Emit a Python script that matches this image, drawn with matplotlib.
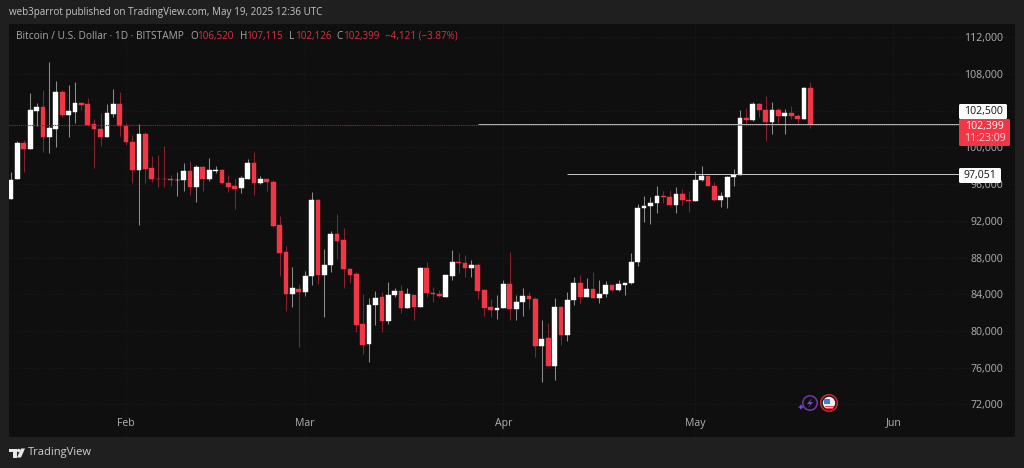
import matplotlib
matplotlib.use("Agg")
import matplotlib.pyplot as plt
from matplotlib.patches import Rectangle, Circle, Polygon, FancyBboxPatch
import numpy as np
import pandas as pd

# daily BTC/USD candles
start_date = "2025-01-14"
opens = [94400,96510,100470,99860,104000,104400,101090,102040,106070,103530,
         103850,104840,104730,102550,102000,101170,103670,104730,102330,100620,
         97560,101420,97780,96580,96580,96550,96400,96440,97420,95710,
         97860,96580,97420,97560,96070,95750,95530,96550,98290,96070,
         96550,96260,91530,88580,84080,84580,84290,85960,94250,86110,
         87240,90580,89890,86800,86220,80760,78580,82870,83670,81060,
         83930,84330,82550,83930,82650,86840,84150,84040,83750,86040,
         87530,87450,86910,87200,84440,82620,82330,82470,85160,82440,
         83130,83850,83530,78330,79200,76220,82620,79530,83380,85270,
         83710,84580,83640,84000,84980,84440,85060,85200,87490,93420,
         93670,93960,94690,94620,93710,94980,94250,94150,96470,96840,
         95780,94250,94650,96800,96980,103200,102940,104760,104070,102730,
         104070,103450,103780,103450,103090,106520]
highs = [97310,100650,100840,105930,104840,106290,109310,107200,106290,106800,
         107090,104980,105380,103130,103750,104760,106400,106040,102660,101380,
         102550,101670,99090,99160,100180,96950,97310,98290,98510,98070,
         97970,98840,97930,97640,97020,96660,96910,98760,99490,96910,
         96580,96470,92550,89270,86950,85130,86550,95130,94360,88910,
         90940,92760,91270,86840,86440,84040,83600,84400,84290,85310,
         84650,85020,84730,83930,87020,87490,84800,84470,86110,88800,
         88510,88290,87780,87450,84470,83460,83890,85560,88580,83890,
         84730,84220,83670,81200,80870,83560,82730,84290,85930,86110,
         85780,86470,85530,85460,85020,85600,85270,88510,93850,94690,
         94620,95780,95270,95310,95640,95420,95240,97420,97930,96910,
         96220,95160,96910,97670,104070,104290,104940,104870,105630,104940,
         104330,104140,104510,103670,106580,107115]
lows = [94330,96510,97310,99860,102290,99490,99420,100070,103310,101170,
        102690,104110,102360,97750,100180,101170,103270,101270,100290,96110,
        91530,96110,96180,95670,95670,95750,94690,95270,94840,94070,
        95270,96290,97200,96040,95170,93310,95020,96550,94840,96040,
        95240,91380,85980,82180,82620,78290,83820,85050,85130,81530,
        86440,87850,84730,85270,79930,77460,76660,80620,79930,80800,
        83710,82000,82510,81200,82620,83670,83160,83750,83710,85560,
        86330,85850,85850,83530,81640,81530,81310,82470,81200,81240,
        81640,82360,77130,74470,76180,74660,78440,78950,82800,83060,
        83710,83600,83090,83750,84400,84400,83930,85170,87130,91930,
        91710,92870,93960,93670,92840,93740,92980,94110,96360,95780,
        94180,93530,93420,95820,96950,102330,102840,103340,100730,101420,
        102620,101420,103130,102540,103050,102126]
closes = [96470,100470,99860,104110,104400,101170,102110,106070,103560,103930,
          104840,104660,102470,102000,101170,103750,104730,102290,100550,97560,
          101420,97670,96510,96510,96510,96470,96470,97420,95710,97860,
          96580,97490,97560,96070,95710,95490,96620,98290,96070,96580,
          96180,91460,88550,84080,84660,84290,86000,94250,86110,87240,
          90580,89850,86730,86150,80690,78510,82840,83600,81060,83960,
          84360,82510,84040,82650,86840,84150,84000,83820,86070,87530,
          87450,86870,87200,84360,82550,82330,82510,85160,82440,83160,
          83850,83490,78330,79130,76220,82620,79530,83420,85270,83710,
          84580,83640,84040,84980,84440,85090,85240,87530,93420,93670,
          94000,94690,94620,93710,94980,94220,94110,96470,96840,95820,
          94290,94690,96800,97020,103200,102940,104760,104040,102730,104070,
          103450,103710,103450,103050,106470,102399]

price_ticks = [72000,76000,80000,84000,88000,92000,96000,100000,104000,108000,112000]
months = ["Feb", "Mar", "Apr", "May", "Jun"]
month_dates = ["2025-02-01", "2025-03-01", "2025-04-01", "2025-05-01", "2025-06-01"]

level_high = 102500
level_low = 97051
level_high_start = "2025-03-28"
level_low_start = "2025-04-11"

RED = "#f23645"
FRAME = "#1f1f1f"
PANEL = "#0f0f0f"
GRID = "#1b1b1b"
LABEL = "#b2b2b2"
FONT = "Open Sans"

plt.rcParams["font.family"] = FONT

o = np.array(opens)
h = np.array(highs)
l = np.array(lows)
c = np.array(closes)
x = np.arange(len(o))
up = c >= o
t0 = pd.Timestamp(start_date)
month_x = [(pd.Timestamp(d) - t0).days for d in month_dates]

fig = plt.figure(figsize=(10.24, 4.68), dpi=100, facecolor=FRAME)
# panel is x 9-1015, y 24-437 in pixels
ax = fig.add_axes([9/1024, 1-437/468, (1015-9)/1024, (437-24)/468], facecolor=PANEL)
ax.set_xlim(-0.31, 157)
ax.set_ylim(68452, 113447)
for s in ax.spines.values():
    s.set_visible(False)
ax.set_axisbelow(True)
ax.grid(True, color=GRID, lw=0.7, ls=(0, (1, 1.5)))

ax.set_yticks(price_ticks)
ax.set_yticklabels([f"{p:,}" for p in price_ticks])
ax.yaxis.tick_right()
ax.tick_params(axis="y", length=0, pad=-8.6, labelsize=7.6, labelcolor=LABEL)
plt.setp(ax.get_yticklabels(), ha="right")
ax.set_xticks(month_x)
ax.set_xticklabels(months)
ax.tick_params(axis="x", length=0, pad=-14, labelsize=7.6, labelcolor=LABEL)

# wicks then bodies
ax.vlines(x[up], l[up], h[up], color="#8c8c8c", lw=0.75, zorder=2)
ax.vlines(x[~up], l[~up], h[~up], color="#86222d", lw=0.75, zorder=2)
ax.bar(x[up], (c-o)[up], bottom=o[up], width=0.74, color="#ffffff", edgecolor="#ffffff", lw=0.3, zorder=3)
ax.bar(x[~up], (o-c)[~up], bottom=c[~up], width=0.74, color=RED, edgecolor=RED, lw=0.3, zorder=3)

# price lines
line_end = 148.2
ax.hlines(closes[-1], -0.31, line_end, color="#8a2530", lw=0.8, ls=(0, (1, 0.7)), zorder=4)
ax.hlines(level_high, (pd.Timestamp(level_high_start) - t0).days, line_end, color="#b4b4b4", lw=0.7, zorder=4)
ax.hlines(level_low, (pd.Timestamp(level_low_start) - t0).days, line_end, color="#c8c8c8", lw=0.7, zorder=4)

# overlay in pixel coordinates for labels, header and logo
ov = fig.add_axes([0, 0, 1, 1], facecolor="none")
ov.set_xlim(0, 1024)
ov.set_ylim(468, 0)
ov.axis("off")


def box(x0, y0, x1, y1, color):
    ov.add_patch(FancyBboxPatch((x0+1, y0+1), x1-x0-2, y1-y0-2, boxstyle="round,pad=1,rounding_size=1.5", fc=color, ec="none"))


box(959, 104, 1007, 119, "#ffffff")
box(959, 119, 1010, 146, RED)
box(959, 168, 1001, 183, "#ffffff")
ov.text(983, 111.5, f"{level_high:,}", color="#131313", fontsize=7.6, ha="center", va="center")
ov.text(984.5, 126, f"{closes[-1]:,}", color="#ffffff", fontsize=7.6, ha="center", va="center")
ov.text(984.5, 138.5, "11:23:09", color="#ffd5d9", fontsize=7.6, ha="center", va="center")
ov.text(980, 175.5, f"{level_low:,}", color="#131313", fontsize=7.6, ha="center", va="center")

ov.text(9, 13, "web3parrot published on TradingView.com, May 19, 2025 12:36 UTC", color="#c4c4c4", fontsize=7.08, va="center")

HEAD = "#a8a8a8"
HEAD_RED = "#d8303f"
ov.text(15.5, 36.5, "Bitcoin / U.S. Dollar · 1D · BITSTAMP", color=HEAD, fontsize=7.3, va="center")
for px, txt, col in [(190, "O", HEAD), (197, "106,520", HEAD_RED), (240, "H", HEAD), (246, "107,115", HEAD_RED),
                     (289, "L", HEAD), (295, "102,126", HEAD_RED), (336, "C", HEAD), (343, "102,399", HEAD_RED),
                     (385, "−4,121 (−3.87%)", HEAD_RED)]:
    ov.text(px, 36.5, txt, color=col, fontsize=7.1, va="center")

# TradingView logo
ov.add_patch(Polygon([(8.5, 448.5), (16.5, 448.5), (16.5, 457.5), (13, 457.5), (13, 452), (8.5, 452)], fc="#e8e8e8", ec="none"))
ov.add_patch(Circle((18.6, 450.5), 1.7, fc="#e8e8e8", ec="none"))
ov.add_patch(Polygon([(21, 448.5), (25, 448.5), (21, 457.5), (17, 457.5)], fc="#e8e8e8", ec="none"))
ov.text(28, 453, "TradingView", color="#d0d0d0", fontsize=8.0, va="center")

# event icons near the time axis
ov.add_patch(Circle((810, 403), 7.2, fc="none", ec="#6f3aa8", lw=1.1))
ov.add_patch(Polygon([(812, 398), (807, 404), (810, 404), (808, 408), (813, 402), (810, 402)], fc="#7c45b8", ec="none"))
ov.add_patch(Polygon([(800, 406), (801, 404), (802, 406), (804, 407), (802, 408), (801, 410), (800, 408), (798, 407)], fc="#6a4de0", ec="none"))
ov.add_patch(Circle((829, 403), 8.3, fc="#111111", ec="#c4232f", lw=1.2))
ov.add_patch(Circle((829, 403), 6.2, fc="#f0f0f0", ec="none"))
ov.add_patch(Rectangle((824.5, 405.5), 9, 1.5, fc="#e8434f", ec="none"))
ov.add_patch(Rectangle((825.5, 407.8), 7, 1.2, fc="#e8434f", ec="none"))
ov.add_patch(Rectangle((824, 398.5), 5.5, 5, fc="#3f7fe0", ec="none"))

fig.savefig("out.png", dpi=100, facecolor=FRAME)
